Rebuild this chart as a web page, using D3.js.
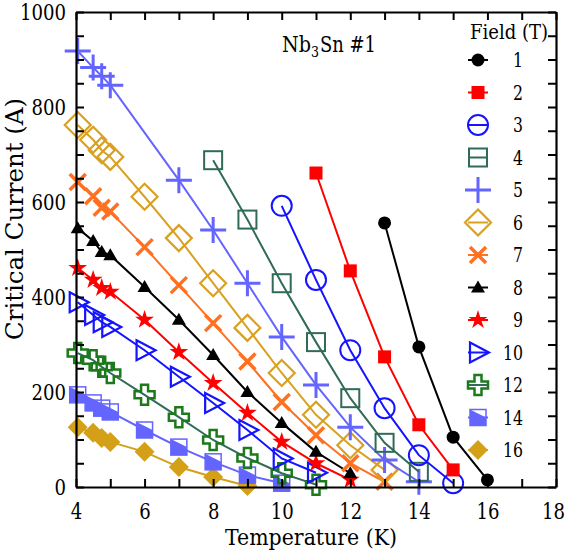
<!DOCTYPE html>
<html>
<head>
<meta charset="utf-8">
<script src="https://cdn.jsdelivr.net/npm/d3@7"></script>
<style>
  html, body { margin: 0; padding: 0; background: #fff; }
</style>
</head>
<body>
<svg id="chart" width="569" height="550"></svg>
<script>
// ---- data ----
const fieldLabels = ["1","2","3","4","5","6","7","8","9","10","12","14","16"];
const xTicks = [4,5,6,7,8,9,10,11,12,13,14,15,16,17,18];
const xTickLabels = ["4","6","8","10","12","14","16","18"];
const yTickLabels = ["0","200","400","600","800","1000"];

const temps1 = [13,14,15,16];
const amps1  = [556,295,105,15];
const temps2 = [11,12,13,14,15];
const amps2  = [661,455,274,131,36];
const temps3 = [10,11,12,13,14,15];
const amps3  = [592,436,288,166,67,8];
const temps4 = [8,9,10,11,12,13,14];
const amps4  = [688,563,429,305,187,93,32];
const temps5 = [4.05,4.5,4.75,5,7,8,9,10,11,12,13,14];
const amps5  = [918,883,865,846,646,541,429,316,215,126,57,11];
const temps6 = [4.05,4.5,4.75,5,6,7,8,9,10,11,12,13];
const amps6  = [762,731,709,695,611,524,429,335,240,152,88,36];
const temps7 = [4.05,4.5,4.75,5,6,7,8,9,10,11,12,13];
const amps7  = [642,612,588,580,505,425,345,264,179,109,50,11];
const temps8 = [4.05,4.5,4.75,5,6,7,8,9,10,11,12];
const amps8  = [545,518,495,488,421,352,278,200,135,74,29];
const temps9 = [4.05,4.5,4.75,5,6,7,8,9,10,11,12];
const amps9  = [461,436,419,411,352,284,219,156,95,50,15];
const temps10 = [4.05,4.5,4.75,5,6,7,8,9,10,11];
const amps10  = [389,362,347,337,288,232,177,120,60,30];
const temps12 = [4.05,4.5,4.75,5,6,7,8,9,10,11];
const amps12  = [282,267,253,240,194,147,99,61,29,5];
const temps14 = [4.05,4.5,4.75,5,6,7,8,9,10];
const amps14  = [194,177,166,158,120,84,53,25,8];
const temps16 = [4.05,4.5,4.75,5,6,7,8,9];
const amps16  = [126,114,103,95,74,42,21,2];

const seriesTemps = [temps1,temps2,temps3,temps4,temps5,temps6,temps7,temps8,temps9,temps10,temps12,temps14,temps16];
const seriesAmps  = [amps1,amps2,amps3,amps4,amps5,amps6,amps7,amps8,amps9,amps10,amps12,amps14,amps16];

// styles
const colors = ["#000000","#ff0000","#1414ff","#2f6b58","#6464ff","#d9a021","#ff7020","#000000","#ff0000","#1414ff","#1c7a1c","#6464ff","#d4a017"];
const lineColors = ["#000000","#ff0000","#1414ff","#2f6b58","#6464ff","#d9a021","#ff7020","#000000","#ff0000","#1414ff","#2f6b58","#6464ff","#d4a017"];
const markerTypes = ["fcircle","fsquare","ocircle","osquare","plus","odiamond","xmark","ftri","star","otri","ocross","hsquare","fdiamond"];
const FONT = '"DejaVu Serif", serif';

// ---- layout ----
const svg = d3.select("#chart");
const x = d3.scaleLinear().domain([4,18]).range([76,556]);
const y = d3.scaleLinear().domain([0,1000]).range([487,12]);

function drawMarker(g, type, c) {
  switch (type) {
    case "fcircle": g.append("circle").attr("r",6.5).attr("fill",c); break;
    case "fsquare": g.append("rect").attr("x",-6.5).attr("y",-6.5).attr("width",13).attr("height",13).attr("fill",c); break;
    case "ocircle": g.append("circle").attr("r",10).attr("fill","none").attr("stroke",c).attr("stroke-width",2); break;
    case "osquare": g.append("rect").attr("x",-9).attr("y",-9).attr("width",18).attr("height",18).attr("fill","none").attr("stroke",c).attr("stroke-width",2); break;
    case "plus":
      g.append("path").attr("d","M-13,0H13M0,-13V13").attr("stroke",c).attr("stroke-width",3).attr("fill","none"); break;
    case "odiamond":
      g.append("path").attr("d","M0,-13L13,0L0,13L-13,0Z").attr("fill","none").attr("stroke",c).attr("stroke-width",2.2); break;
    case "xmark":
      g.append("path").attr("d","M-8,-8L8,8M-8,8L8,-8").attr("stroke",c).attr("stroke-width",3.5).attr("fill","none"); break;
    case "ftri":
      g.append("path").attr("d","M0,-7L7,5L-7,5Z").attr("fill",c); break;
    case "star":
      g.append("path").attr("d", d3.symbol().type(d3.symbolStar).size(110)()).attr("fill",c); break;
    case "otri":
      g.append("path").attr("d","M-8,-10L11,0L-8,10Z").attr("fill","none").attr("stroke",c).attr("stroke-width",2.2); break;
    case "ocross":
      g.append("path").attr("d","M-3.5,-10H3.5V-3.5H10V3.5H3.5V10H-3.5V3.5H-10V-3.5H-3.5Z").attr("fill","none").attr("stroke",c).attr("stroke-width",2.5); break;
    case "hsquare":
      g.append("path").attr("d","M-8,-8L8,0L8,8L-8,8Z").attr("fill",c);
      g.append("rect").attr("x",-8).attr("y",-8).attr("width",16).attr("height",16).attr("fill","none").attr("stroke",c).attr("stroke-width",1.5); break;
    case "fdiamond":
      g.append("path").attr("d","M0,-10L10,0L0,10L-10,0Z").attr("fill",c); break;
  }
}

// ---- series ----
const line = d3.line().x(d => x(d[0])).y(d => y(d[1]));
const plot = svg.append("g");
for (let i = seriesTemps.length - 1; i >= 0; i--) {
  const pts = seriesTemps[i].map((t, k) => [t, seriesAmps[i][k]]);
  plot.append("path").datum(pts).attr("d", line)
    .attr("fill","none").attr("stroke",lineColors[i]).attr("stroke-width",2);
  pts.forEach(p => {
    const g = plot.append("g").attr("transform",`translate(${x(p[0])},${y(p[1])})`);
    drawMarker(g, markerTypes[i], colors[i]);
  });
}

// ---- axes (ticks inward) ----
const yTicks = d3.range(0, 1001, 50);
const axBottom = svg.append("g").attr("transform",`translate(0,${y(0)})`)
  .call(d3.axisBottom(x).tickValues(xTicks).tickSizeInner(-8).tickSizeOuter(0).tickPadding(16)
    .tickFormat(d => xTickLabels.includes(String(d)) ? String(d) : ""));
const axTop = svg.append("g").attr("transform",`translate(0,${y(1000)})`)
  .call(d3.axisTop(x).tickValues(xTicks).tickSizeInner(-8).tickSizeOuter(0).tickFormat(""));
const axLeft = svg.append("g").attr("transform",`translate(${x(4)},0)`)
  .call(d3.axisLeft(y).tickValues(yTicks).tickSizeInner(-8).tickSizeOuter(0).tickPadding(10)
    .tickFormat(d => yTickLabels.includes(String(d)) ? String(d) : ""));
const axRight = svg.append("g").attr("transform",`translate(${x(18)},0)`)
  .call(d3.axisRight(y).tickValues(yTicks).tickSizeInner(-8).tickSizeOuter(0).tickFormat(""));
[axBottom, axTop, axLeft, axRight].forEach(a => {
  a.attr("font-family", FONT).attr("font-size", 23);
  a.select(".domain").attr("stroke","#000").attr("stroke-width",2.2);
  a.selectAll(".tick line").attr("stroke","#000").attr("stroke-width",2);
  a.selectAll("text").attr("fill","#000").each(function() {
    const t = d3.select(this).text();
    if (t) d3.select(this).attr("textLength", t.length * 11.5).attr("lengthAdjust","spacingAndGlyphs");
  });
});
axBottom.selectAll(".tick text").filter(d => d === 18).attr("x", -3);

// ---- titles ----
svg.append("text").attr("x", 311).attr("y", 545).attr("text-anchor","middle")
  .attr("font-family", FONT).attr("font-size",22)
  .attr("textLength",172).attr("lengthAdjust","spacingAndGlyphs").text("Temperature (K)");
svg.append("text").attr("transform","translate(23,219) rotate(-90)").attr("text-anchor","middle")
  .attr("font-family", FONT).attr("font-size",25)
  .attr("textLength",242).attr("lengthAdjust","spacingAndGlyphs").text("Critical Current (A)");

const ann = svg.append("text").attr("x",282).attr("y",52).attr("font-family", FONT).attr("font-size",23);
ann.append("tspan").attr("textLength",29).attr("lengthAdjust","spacingAndGlyphs").text("Nb");
ann.append("tspan").attr("font-size",15).attr("dy",5).attr("textLength",8).attr("lengthAdjust","spacingAndGlyphs").text("3");
ann.append("tspan").attr("dy",-5).attr("dx",1).attr("textLength",56).attr("lengthAdjust","spacingAndGlyphs").text("Sn #1");

// ---- legend ----
svg.append("text").attr("x",470).attr("y",39).attr("font-family", FONT).attr("font-size",21)
  .attr("textLength",78).attr("lengthAdjust","spacingAndGlyphs").text("Field (T)");
fieldLabels.forEach((f, i) => {
  const cy = 60 + i * 32.5;
  const g = svg.append("g").attr("transform",`translate(478,${cy})`);
  g.append("line").attr("x1",-10).attr("x2",10).attr("stroke",lineColors[i]).attr("stroke-width",2);
  drawMarker(g, markerTypes[i], colors[i]);
  svg.append("text").attr("x",523).attr("y",cy).attr("dy","0.36em").attr("text-anchor","end")
    .attr("font-family", FONT).attr("font-size",20)
    .attr("textLength", f.length * 10).attr("lengthAdjust","spacingAndGlyphs").text(f);
});
</script>
</body>
</html>
